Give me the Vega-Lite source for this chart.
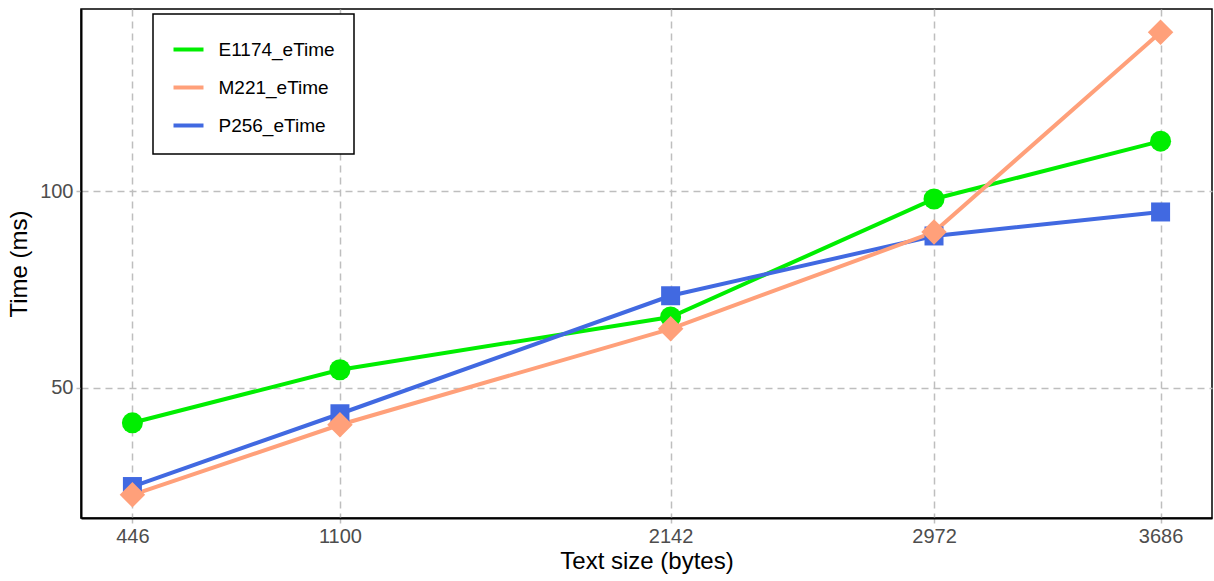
{
  "$schema": "https://vega.github.io/schema/vega-lite/v6.json",
  "width": 1131,
  "height": 509,
  "autosize": {"type": "none"},
  "padding": {"left": 81, "top": 9, "right": 2, "bottom": 63},
  "background": "white",
  "config": {
    "font": "Liberation Sans",
    "view": {"stroke": "black", "strokeWidth": 1.5},
    "axis": {
      "grid": true,
      "gridColor": "#BEBEBE",
      "gridDash": [7, 5],
      "gridWidth": 1.5,
      "domain": true,
      "domainColor": "black",
      "domainWidth": 2,
      "tickColor": "#BEBEBE",
      "tickWidth": 1.5,
      "tickSize": 5,
      "labelColor": "#4D4D4D",
      "labelFontSize": 20,
      "labelFont": "Liberation Sans",
      "titleFont": "Liberation Sans",
      "titleFontSize": 24,
      "titleFontWeight": "normal",
      "titleColor": "black"
    }
  },
  "data": {
    "values": [
      {"size": 446, "time": 41.1, "series": "E1174_eTime"},
      {"size": 1100, "time": 54.6, "series": "E1174_eTime"},
      {"size": 2142, "time": 68.0, "series": "E1174_eTime"},
      {"size": 2972, "time": 98.0, "series": "E1174_eTime"},
      {"size": 3686, "time": 112.7, "series": "E1174_eTime"},
      {"size": 446, "time": 24.9, "series": "P256_eTime"},
      {"size": 1100, "time": 43.4, "series": "P256_eTime"},
      {"size": 2142, "time": 73.4, "series": "P256_eTime"},
      {"size": 2972, "time": 88.6, "series": "P256_eTime"},
      {"size": 3686, "time": 94.7, "series": "P256_eTime"},
      {"size": 446, "time": 22.8, "series": "M221_eTime"},
      {"size": 1100, "time": 40.6, "series": "M221_eTime"},
      {"size": 2142, "time": 65.0, "series": "M221_eTime"},
      {"size": 2972, "time": 89.6, "series": "M221_eTime"},
      {"size": 3686, "time": 140.4, "series": "M221_eTime"}
    ]
  },
  "encoding": {
    "x": {
      "field": "size", "type": "quantitative",
      "scale": {"domain": [284, 3848], "nice": false, "zero": false},
      "axis": {"values": [446, 1100, 2142, 2972, 3686], "title": "Text size (bytes)", "labelPadding": 3, "titlePadding": 3, "format": "d"}
    },
    "y": {
      "field": "time", "type": "quantitative",
      "scale": {"domain": [16.9, 146.3], "nice": false, "zero": false},
      "axis": {"values": [50, 100], "title": "Time (ms)", "labelPadding": 3, "titlePadding": 8}
    }
  },
  "layer": [
    {
      "mark": {"type": "line", "strokeWidth": 4},
      "encoding": {
        "color": {
          "field": "series", "type": "nominal",
          "scale": {"domain": ["E1174_eTime", "M221_eTime", "P256_eTime"], "range": ["#00EE00", "#FFA07A", "#4169E1"]},
          "legend": {
            "title": null,
            "orient": "none",
            "legendX": 72,
            "legendY": 5,
            "symbolType": "stroke",
            "symbolSize": 900,
            "symbolStrokeWidth": 4,
            "labelFontSize": 19,
            "labelColor": "black",
            "labelFont": "Liberation Sans",
            "labelOffset": 13,
            "rowPadding": 11,
            "padding": 18.5,
            "strokeColor": "black",
            "fillColor": "white",
            "encode": {
              "legend": {"update": {"strokeWidth": {"value": 1.5}}}
            }
          }
        }
      }
    },
    {
      "transform": [{"filter": {"field": "series", "equal": "E1174_eTime"}}],
      "mark": {"type": "point", "filled": true, "opacity": 1, "strokeWidth": 0, "shape": "circle", "size": 441},
      "encoding": {
        "fill": {
          "field": "series", "type": "nominal",
          "scale": {"domain": ["E1174_eTime", "M221_eTime", "P256_eTime"], "range": ["#00EE00", "#FFA07A", "#4169E1"]},
          "legend": null
        }
      }
    },
    {
      "transform": [{"filter": {"field": "series", "equal": "P256_eTime"}}],
      "mark": {"type": "point", "filled": true, "opacity": 1, "strokeWidth": 0, "shape": "square", "size": 361},
      "encoding": {
        "fill": {
          "field": "series", "type": "nominal",
          "scale": {"domain": ["E1174_eTime", "M221_eTime", "P256_eTime"], "range": ["#00EE00", "#FFA07A", "#4169E1"]},
          "legend": null
        }
      }
    },
    {
      "transform": [{"filter": {"field": "series", "equal": "M221_eTime"}}],
      "mark": {"type": "point", "filled": true, "opacity": 1, "strokeWidth": 0, "shape": "diamond", "size": 650},
      "encoding": {
        "fill": {
          "field": "series", "type": "nominal",
          "scale": {"domain": ["E1174_eTime", "M221_eTime", "P256_eTime"], "range": ["#00EE00", "#FFA07A", "#4169E1"]},
          "legend": null
        }
      }
    }
  ]
}
